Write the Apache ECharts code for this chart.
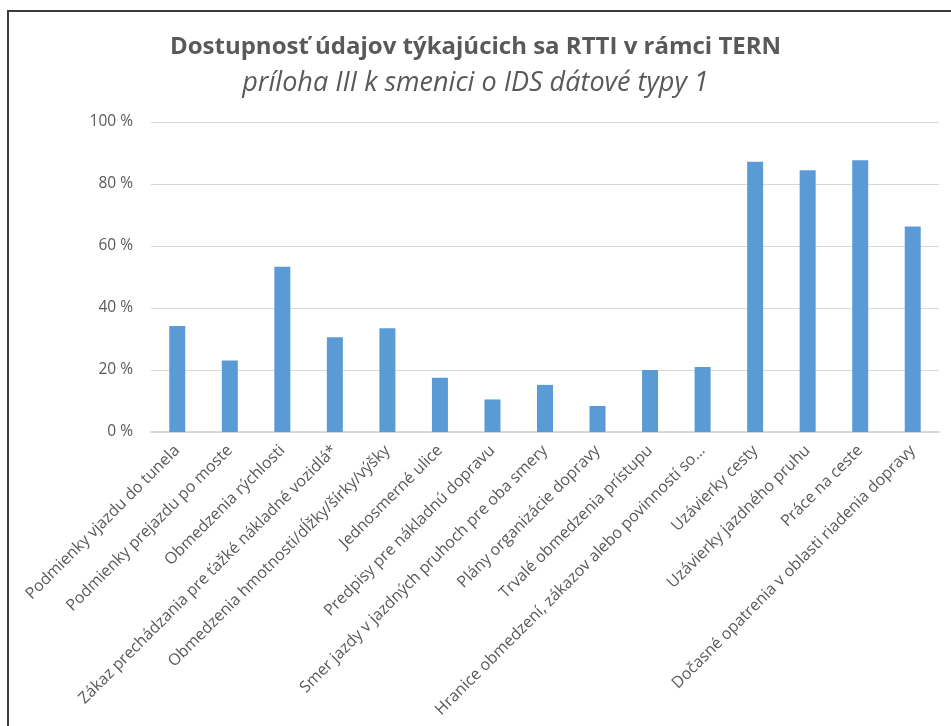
<!DOCTYPE html>
<html>
<head>
<meta charset="utf-8">
<title>Dostupnosť údajov RTTI</title>
<script src="https://cdn.jsdelivr.net/npm/echarts@6/dist/echarts.min.js"></script>
<style>
    html, body { margin: 0; padding: 0; background: #fff; }
    #main { width: 951px; height: 726px; }
</style>
</head>
<body>
<div id="main"></div>
<script>
    // kategórie (os x)
    var categories = [
        'Podmienky vjazdu do tunela',
        'Podmienky prejazdu po moste',
        'Obmedzenia rýchlosti',
        'Zákaz prechádzania pre ťažké nákladné vozidlá*',
        'Obmedzenia hmotnosti/dĺžky/šírky/výšky',
        'Jednosmerné ulice',
        'Predpisy pre nákladnú dopravu',
        'Smer jazdy v jazdných pruhoch pre oba smery',
        'Plány organizácie dopravy',
        'Trvalé obmedzenia prístupu',
        'Hranice obmedzení, zákazov alebo povinností so...',
        'Uzávierky cesty',
        'Uzávierky jazdného pruhu',
        'Práce na ceste',
        'Dočasné opatrenia v oblasti riadenia dopravy'
    ];
    // podiel v %
    var values = [34.2, 23.1, 53.3, 30.6, 33.5, 17.5, 10.5, 15.2, 8.4, 20.0, 21.0, 87.2, 84.4, 87.7, 66.3];
    var yTicks = [0, 20, 40, 60, 80, 100];

    var textColor = '#595959';
    var myChart = echarts.init(document.getElementById('main'));

    var option = {
        animation: false,
        backgroundColor: '#ffffff',
        title: [
            {
                text: 'Dostupnosť údajov týkajúcich sa RTTI v rámci TERN',
                left: 'center',
                top: 30,
                textStyle: {
                    fontFamily: 'Open Sans',
                    fontWeight: 'bold',
                    fontSize: 24,
                    color: textColor
                }
            },
            {
                text: 'príloha III k smenici o IDS dátové typy 1',
                left: 'center',
                top: 65,
                textStyle: {
                    fontFamily: 'Open Sans',
                    fontStyle: 'italic',
                    fontWeight: 'normal',
                    fontSize: 27,
                    color: textColor
                }
            }
        ],
        // rámik grafu
        graphic: [
            {
                type: 'polyline',
                shape: { points: [[8, 760], [8, 11], [990, 11]] },
                style: { stroke: '#3a3a3a', lineWidth: 2, fill: null },
                silent: true
            }
        ],
        grid: {
            left: 151,
            right: 12,
            top: 122,
            bottom: 294,
            containLabel: false
        },
        xAxis: {
            type: 'category',
            data: categories,
            axisTick: { show: false },
            axisLine: { lineStyle: { color: '#d9d9d9', width: 2 } },
            axisLabel: {
                interval: 0,
                rotate: 45,
                margin: 16,
                fontFamily: 'Open Sans',
                fontSize: 16,
                color: textColor
            }
        },
        yAxis: {
            type: 'value',
            min: yTicks[0],
            max: yTicks[yTicks.length - 1],
            interval: yTicks[1] - yTicks[0],
            axisLine: { show: false },
            axisTick: { show: false },
            splitLine: { lineStyle: { color: '#d9d9d9', width: 1 } },
            axisLabel: {
                margin: 18,
                fontFamily: 'Open Sans',
                fontSize: 15.5,
                color: textColor,
                formatter: '{value} %'
            }
        },
        series: [
            {
                type: 'bar',
                data: values,
                barWidth: 16,
                itemStyle: { color: '#5b9bd5' }
            }
        ]
    };

    myChart.setOption(option);
</script>
</body>
</html>
